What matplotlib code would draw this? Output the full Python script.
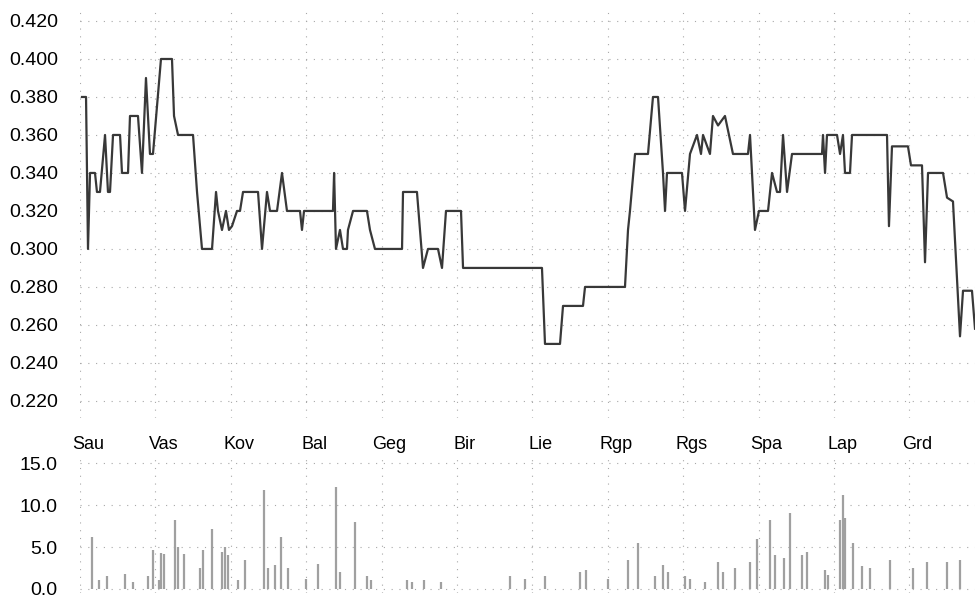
"""Stage profile: running ratio along the route (top) with per-point gain bars (bottom)."""
import numpy as np
import matplotlib
matplotlib.use("Agg")
import matplotlib.pyplot as plt
from matplotlib.transforms import ScaledTranslation

plt.rcParams["font.family"] = ["Liberation Sans", "DejaVu Sans"]

STAGES = ["Sau", "Vas", "Kov", "Bal", "Geg", "Bir", "Lie", "Rgp", "Rgs", "Spa", "Lap", "Grd"]

# route position (in stage units) and ratio at each vertex of the profile line
ROUTE_X = [
    0.027, 0.080, 0.106, 0.133, 0.199, 0.225, 0.265, 0.332, 0.371, 0.398, 0.438, 0.531,
    0.557, 0.637, 0.663, 0.769, 0.822, 0.875, 0.928, 0.968, 1.074, 1.220, 1.247, 1.300,
    1.499, 1.552, 1.618, 1.751, 1.804, 1.830, 1.883, 1.936, 1.976, 2.016, 2.082, 2.122,
    2.162, 2.361, 2.414, 2.480, 2.520, 2.613, 2.679, 2.745, 2.918, 2.944, 2.971, 3.355,
    3.370, 3.395, 3.448, 3.488, 3.541, 3.554, 3.621, 3.806, 3.846, 3.912, 4.271, 4.284,
    4.469, 4.549, 4.615, 4.748, 4.801, 4.854, 5.053, 5.080, 6.127, 6.167, 6.366, 6.406,
    6.671, 6.698, 7.228, 7.268, 7.294, 7.361, 7.533, 7.599, 7.666, 7.732, 7.759, 7.785,
    7.984, 8.024, 8.090, 8.183, 8.236, 8.263, 8.355, 8.395, 8.462, 8.554, 8.660, 8.859,
    8.886, 8.952, 9.005, 9.125, 9.178, 9.244, 9.284, 9.324, 9.377, 9.443, 9.841, 9.854,
    9.881, 9.907, 10.040, 10.080, 10.119, 10.146, 10.212, 10.239, 10.703, 10.729, 10.769,
    10.981, 11.021, 11.167, 11.207, 11.247, 11.446, 11.499, 11.578, 11.671, 11.711,
    11.830, 11.870,
]
RATIO = [
    0.380, 0.380, 0.300, 0.340, 0.340, 0.330, 0.330, 0.360, 0.330, 0.330, 0.360, 0.360,
    0.340, 0.340, 0.370, 0.370, 0.340, 0.390, 0.350, 0.350, 0.400, 0.400, 0.370, 0.360,
    0.360, 0.330, 0.300, 0.300, 0.330, 0.320, 0.310, 0.320, 0.310, 0.312, 0.320, 0.320,
    0.330, 0.330, 0.300, 0.330, 0.320, 0.320, 0.340, 0.320, 0.320, 0.310, 0.320, 0.320,
    0.340, 0.300, 0.310, 0.300, 0.300, 0.310, 0.320, 0.320, 0.310, 0.300, 0.300, 0.330,
    0.330, 0.290, 0.300, 0.300, 0.290, 0.320, 0.320, 0.290, 0.290, 0.250, 0.250, 0.270,
    0.270, 0.280, 0.280, 0.310, 0.320, 0.350, 0.350, 0.380, 0.380, 0.340, 0.320, 0.340,
    0.340, 0.320, 0.350, 0.360, 0.350, 0.360, 0.350, 0.370, 0.365, 0.370, 0.350, 0.350,
    0.360, 0.310, 0.320, 0.320, 0.340, 0.330, 0.330, 0.360, 0.330, 0.350, 0.350, 0.360,
    0.340, 0.360, 0.360, 0.350, 0.360, 0.340, 0.340, 0.360, 0.360, 0.312, 0.354,
    0.354, 0.344, 0.344, 0.293, 0.340, 0.340, 0.327, 0.325, 0.254, 0.278,
    0.278, 0.258,
]

# gain bars: position (stage units) and height
GAIN_X = [
    0.159, 0.252, 0.358, 0.597, 0.703, 0.902, 0.968, 1.048, 1.074, 1.114, 1.260, 1.300,
    1.379, 1.592, 1.631, 1.751, 1.883, 1.923, 1.963, 2.095, 2.188, 2.440, 2.493, 2.586,
    2.666, 2.759, 2.997, 3.156, 3.395, 3.448, 3.647, 3.806, 3.859, 4.337, 4.403, 4.562,
    4.788, 5.703, 5.902, 6.167, 6.631, 6.711, 7.003, 7.268, 7.401, 7.626, 7.732, 7.798,
    8.024, 8.090, 8.289, 8.462, 8.528, 8.687, 8.886, 8.979, 9.151, 9.218, 9.337, 9.416,
    9.576, 9.642, 9.881, 9.920, 10.080, 10.119, 10.146, 10.252, 10.371, 10.477, 10.743,
    11.048, 11.233, 11.499, 11.671,
]
GAIN = [
    6.2, 1.0, 1.5, 1.8, 0.8, 1.5, 4.6, 1.0, 4.3, 4.2, 8.2, 5.0,
    4.2, 2.5, 4.7, 7.1, 4.4, 5.0, 4.0, 1.0, 3.4, 11.8, 2.5, 2.8,
    6.2, 2.5, 1.2, 3.0, 12.2, 2.0, 8.0, 1.5, 1.0, 1.0, 0.8, 1.0,
    0.8, 1.5, 1.2, 1.5, 2.0, 2.3, 1.2, 3.5, 5.5, 1.5, 2.8, 2.0,
    1.5, 1.2, 0.8, 3.2, 2.0, 2.5, 3.2, 6.0, 8.2, 4.0, 3.7, 9.1,
    4.0, 4.4, 2.2, 1.7, 8.2, 11.2, 8.5, 5.5, 2.7, 2.5, 3.5,
    2.5, 3.2, 3.2, 3.5,
]

W, H, DPI = 975, 600, 100
GRID = dict(color="#a8a8a8", linestyle=(0, (1, 6)), linewidth=0.8)


def axes_px(fig, left, top, right, bottom):
    return fig.add_axes([left / W, 1 - bottom / H, (right - left) / W, (bottom - top) / H])


def style(ax):
    for s in ax.spines.values():
        s.set_visible(False)
    ax.set_xlim(0, 11.87)
    ax.set_xticks(np.arange(len(STAGES)))
    ax.grid(True, **GRID)
    ax.set_axisbelow(True)
    ax.tick_params(length=0, labelsize=14, pad=16)


fig = plt.figure(figsize=(W / DPI, H / DPI), dpi=DPI)

ax = axes_px(fig, 80, 9.6, 975, 418)
style(ax)
ax.plot(ROUTE_X, RATIO, color="#383838", lw=1.6)
ax.set_ylim(0.211, 0.426)
ax.set_yticks(np.arange(0.22, 0.4201, 0.02))
ax.set_yticklabels([f"{v:.3f}" for v in np.arange(0.22, 0.4201, 0.02)])
ax.set_xticklabels(STAGES, fontsize=13)
ax.tick_params(axis="x", pad=13)
# stage names sit a little right of their gridline
shift = ScaledTranslation(8 / DPI, 0, fig.dpi_scale_trans)
for lbl in ax.get_xticklabels():
    lbl.set_transform(lbl.get_transform() + shift)

bx = axes_px(fig, 80, 455, 975, 593)
style(bx)
bx.vlines(GAIN_X, 0, GAIN, color="#a0a0a0", lw=1.6)
bx.set_ylim(-0.5, 16)
bx.set_yticks([0, 5, 10, 15])
bx.set_yticklabels([f"{v:.1f}" for v in [0, 5, 10, 15]])
bx.set_xticklabels([])

fig.savefig("out.png", dpi=DPI)
